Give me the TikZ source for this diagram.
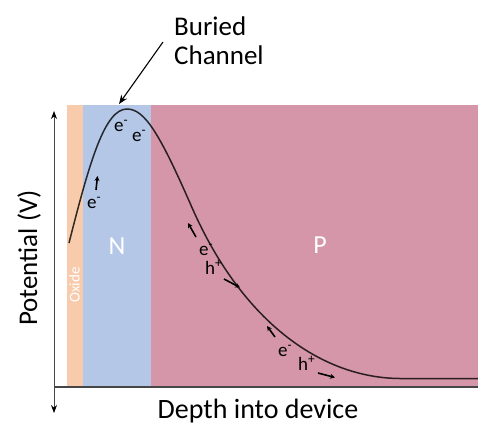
\documentclass[tikz,border=0pt]{standalone}
\usepackage{fontspec}
\setmainfont{Carlito}
\usetikzlibrary{arrows.meta}
\definecolor{oxidefill}{RGB}{247,203,172}
\definecolor{nfill}{RGB}{180,199,231}
\definecolor{pfill}{RGB}{213,150,170}
\definecolor{axisgray}{RGB}{70,70,70}
\tikzset{
  region/.style={draw=none},
  carrier/.style={font=\fontsize{19}{19}\selectfont, anchor=base west, inner sep=0pt},
  drift/.style={line width=1.6pt, -{Stealth[length=5pt,width=5pt]}},
  regionlabel/.style={text=white, font=\fontsize{26}{26}\selectfont, inner sep=0pt},
  axislabel/.style={font=\fontsize{27}{27}\selectfont, inner sep=0pt, anchor=base},
  potential/.style={line width=1.5pt, draw=black, draw opacity=0.8},
}
\begin{document}
\begin{tikzpicture}[x=1pt,y=-1pt]
\useasboundingbox (0,0) rectangle (478,426);

% doped regions
\fill[region, oxidefill] (67,105) rectangle (83,386);
\fill[region, nfill] (83,105) rectangle (151,386);
\fill[region, pfill] (151,105) rectangle (478,386);

% axes
\coordinate (ytop) at (54,111);
\coordinate (ybot) at (54,413);
\coordinate (xl) at (54,387);
\coordinate (xr) at (478,387);
\draw[axisgray, line width=0.8pt, {Stealth[length=8pt,width=6pt,black]}-{Stealth[length=8pt,width=6pt,black]}] (ytop) -- (ybot);
\draw[axisgray, line width=1.6pt] (xl) -- (xr);

% potential profile
\coordinate (v0) at (69,243);
\coordinate (vpeak) at (127,109);
\coordinate (vinfl) at (190,203);
\coordinate (vflat) at (400,378.5);
\coordinate (vend) at (478,378.5);
\draw[potential] (v0) .. controls (90,160) and (105,109) .. (vpeak)
  .. controls (145,109) and (160,135) .. (vinfl)
  .. controls (240,320) and (320,378) .. (vflat) -- (vend);

% region labels
\node[regionlabel] (nlab) at (117,246) {N};
\node[regionlabel] (plab) at (320,245) {P};
\node[text=white, font=\fontsize{15}{15}\selectfont, rotate=90, anchor=base, inner sep=0pt] (oxlab) at (79.5,285) {Oxide};

% carriers
\node[carrier] (e1) at (114,131) {e\textsuperscript{-}};
\node[carrier] (e2) at (132,141) {e\textsuperscript{-}};
\node[carrier] (e3) at (87,208) {e\textsuperscript{-}};
\coordinate (a1s) at (96,190);
\coordinate (a1e) at (97.5,176);
\draw[drift] (a1s) -- (a1e);

\node[carrier] (e4) at (199,255) {e\textsuperscript{-}};
\node[carrier] (h4) at (205,274) {h\textsuperscript{+}};
\coordinate (a2s) at (196,237);
\coordinate (a2e) at (188,223);
\coordinate (a3s) at (224,279);
\coordinate (a3e) at (240,287.5);
\draw[drift] (a2s) -- (a2e);
\draw[drift] (a3s) -- (a3e);

\node[carrier] (e5) at (278,356) {e\textsuperscript{-}};
\node[carrier] (h5) at (298,370) {h\textsuperscript{+}};
\coordinate (a4s) at (275,337);
\coordinate (a4e) at (267,326);
\coordinate (a5s) at (318,373);
\coordinate (a5e) at (335,377.5);
\draw[drift] (a4s) -- (a4e);
\draw[drift] (a5s) -- (a5e);

% buried channel callout
\node[axislabel, anchor=base west] (bur) at (174,35) {Buried};
\node[axislabel, anchor=base west] (chan) at (174,64) {Channel};
\coordinate (callfrom) at (163,42);
\coordinate (callto) at (119,104);
\draw[line width=1.1pt, -{Stealth[length=9pt,width=7pt]}] (callfrom) -- (callto);

% axis titles
\node[axislabel, rotate=90] (ylab) at (37,258) {Potential (V)};
\node[axislabel, font=\fontsize{28}{28}\selectfont] (xlab) at (258,418) {Depth into device};
\end{tikzpicture}
\end{document}
